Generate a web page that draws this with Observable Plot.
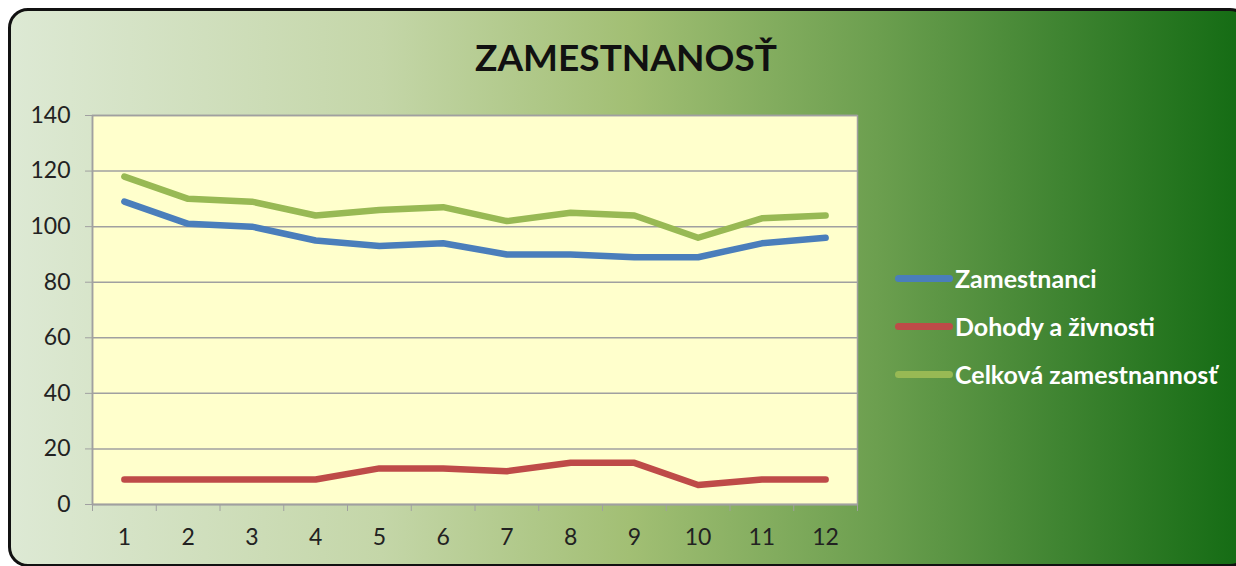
<!DOCTYPE html>
<html>
<head>
<meta charset="utf-8">
<script src="https://cdn.jsdelivr.net/npm/d3@7"></script>
<script src="https://cdn.jsdelivr.net/npm/@observablehq/plot@0.6"></script>
<style>
  html, body { margin: 0; padding: 0; background: #ffffff; }
  #page { position: relative; width: 1236px; height: 566px; overflow: hidden; font-family: Lato, "Open Sans", sans-serif; }
  #box { position: absolute; left: 8px; top: 8px; width: 1236px; height: 553px; border: 3px solid #111; border-radius: 20px;
         background: linear-gradient(to right, #dde9d4 0%, #c4d6a8 30%, #a2bf74 50%, #6c9f4f 70%, #3f8431 85%, #136b13 100%); }
  #title { position: absolute; left: 0; width: 1252px; top: 34px; text-align: center; font-weight: bold; font-size: 37px; color: #111; }
  #chart { position: absolute; left: 0; top: 100px; }
  #legend { position: absolute; left: 895px; top: 254px; }
  .item { display: flex; align-items: center; height: 48px; color: #fff; font-weight: bold; font-size: 25px; }
  .swatch { width: 58px; height: 7px; border-radius: 3.5px; margin-right: 2px; }
</style>
</head>
<body>
<div id="page">
  <div id="box"></div>
  <div id="title">ZAMESTNANOSŤ</div>
  <div id="chart"></div>
  <div id="legend"></div>
</div>
<script>
const months = [1,2,3,4,5,6,7,8,9,10,11,12];
const zamestnanci = [109,101,100,95,93,94,90,90,89,89,94,96];
const dohody = [9,9,9,9,13,13,12,15,15,7,9,9];
const celkova = [118,110,109,104,106,107,102,105,104,96,103,104];
const seriesNames = ["Zamestnanci","Dohody a živnosti","Celková zamestnannosť"];
const seriesColors = ["#4a7ebb","#be4b48","#98b954"];
const yTicks = [0,20,40,60,80,100,120,140];

const allSeries = [zamestnanci, dohody, celkova];
const rows = [];
allSeries.forEach((vals, si) => months.forEach((m, i) => rows.push({month: m, value: vals[i], series: seriesNames[si]})));
const boundaries = d3.range(0.5, 13, 1);

const plot = Plot.plot({
  width: 870,
  height: 460,
  marginLeft: 92,
  marginRight: 13,
  marginTop: 15,
  marginBottom: 56,
  style: {fontFamily: "Lato, 'Open Sans', sans-serif", fontSize: "23px", color: "#222", background: "transparent", overflow: "visible"},
  x: {domain: [0.5, 12.5]},
  y: {domain: [0, 140]},
  color: {domain: seriesNames, range: seriesColors},
  marks: [
    Plot.frame({fill: "#ffffcc", stroke: "#a0a0a0", strokeWidth: 1.5}),
    Plot.gridY(yTicks, {stroke: "#a0a0a0", strokeOpacity: 1, strokeWidth: 1.5}),
    Plot.axisY(yTicks, {tickSize: 7, tickPadding: 15, stroke: "#a0a0a0", fill: "#222", label: null}),
    Plot.axisX(months, {tickSize: 0, tickPadding: 24, fill: "#222", label: null}),
    Plot.axisX(boundaries, {tickSize: 7, tickFormat: () => "", stroke: "#a0a0a0", label: null}),
    Plot.ruleY([0], {stroke: "#a0a0a0", strokeWidth: 1.5}),
    Plot.ruleX([0.5], {stroke: "#a0a0a0", strokeWidth: 1.5}),
    Plot.line(rows, {x: "month", y: "value", z: "series", stroke: "series", strokeWidth: 6.5, strokeLinecap: "round", strokeLinejoin: "round"})
  ]
});
d3.select(plot).selectAll("text").style("font-size", "23px").style("font-family", "Lato, 'Open Sans', sans-serif");
document.getElementById("chart").appendChild(plot);

const legend = document.getElementById("legend");
seriesNames.forEach((n, i) => {
  const it = document.createElement("div");
  it.className = "item";
  const sw = document.createElement("div");
  sw.className = "swatch";
  sw.style.background = seriesColors[i];
  const tx = document.createElement("span");
  tx.textContent = n;
  it.appendChild(sw); it.appendChild(tx);
  legend.appendChild(it);
});
</script>
</body>
</html>
